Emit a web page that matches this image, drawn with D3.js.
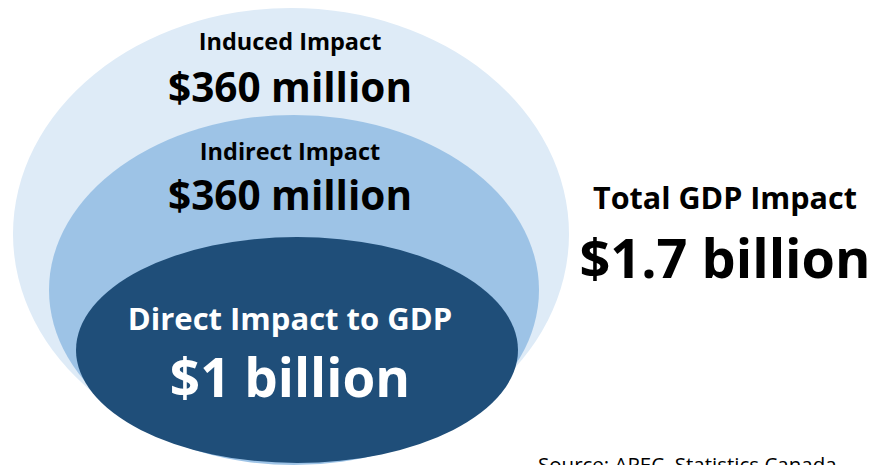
<!DOCTYPE html>
<html>
<head>
<meta charset="utf-8">
<script src="https://cdn.jsdelivr.net/npm/d3@7"></script>
<style>
  html, body { margin: 0; padding: 0; background: #ffffff; }
  svg { display: block; }
  text { font-family: "Open Sans", Lato, sans-serif; font-weight: bold; }
</style>
</head>
<body>
<div id="chart"></div>
<script>
// impact layers, outermost first
var layerNames = ["Induced Impact", "Indirect Impact", "Direct Impact to GDP"];
var layerValues = ["$360 million", "$360 million", "$1 billion"];
var totalName = "Total GDP Impact";
var totalValue = "$1.7 billion";
var sourceNote = "Source: APEC, Statistics Canada";

var width = 873, height = 465;

// ellipse geometry for each ring (outer, middle, inner)
var rings = [
  {cx: 291, cy: 234, rx: 278, ry: 226, fill: "#deebf7"},
  {cx: 294, cy: 290, rx: 245, ry: 175, fill: "#9dc3e6"},
  {cx: 297, cy: 350, rx: 221, ry: 113, fill: "#1f4e79"}
];

// label placement per ring
var labelStyle = [
  {nameY: 50, valueY: 102, nameSize: 23.5, valueSize: 40.5, color: "#000000"},
  {nameY: 160, valueY: 210, nameSize: 23.5, valueSize: 40.5, color: "#000000"},
  {nameY: 330, valueY: 397, nameSize: 31, valueSize: 53, color: "#ffffff"}
];

var svg = d3.select("#chart").append("svg")
  .attr("width", width)
  .attr("height", height);

svg.selectAll("ellipse.ring")
  .data(rings)
  .enter().append("ellipse")
  .attr("class", "ring")
  .attr("cx", function(d) { return d.cx; })
  .attr("cy", function(d) { return d.cy; })
  .attr("rx", function(d) { return d.rx; })
  .attr("ry", function(d) { return d.ry; })
  .attr("fill", function(d) { return d.fill; });

var labelX = 290;

layerNames.forEach(function(name, i) {
  var s = labelStyle[i];
  svg.append("text")
    .attr("x", labelX)
    .attr("y", s.nameY)
    .attr("text-anchor", "middle")
    .attr("fill", s.color)
    .style("font-size", s.nameSize + "px")
    .text(name);

  svg.append("text")
    .attr("x", labelX)
    .attr("y", s.valueY)
    .attr("text-anchor", "middle")
    .attr("fill", s.color)
    .style("font-size", s.valueSize + "px")
    .text(layerValues[i]);
});

// total on the right
svg.append("text")
  .attr("x", 725)
  .attr("y", 209)
  .attr("text-anchor", "middle")
  .attr("fill", "#000")
  .style("font-size", "30.5px")
  .text(totalName);

svg.append("text")
  .attr("x", 725)
  .attr("y", 278)
  .attr("text-anchor", "middle")
  .attr("fill", "#000")
  .style("font-size", "54px")
  .text(totalValue);

svg.append("text")
  .attr("x", 538)
  .attr("y", 472)
  .attr("fill", "#000")
  .style("font-weight", "normal")
  .style("font-size", "20.5px")
  .text(sourceNote);
</script>
</body>
</html>
